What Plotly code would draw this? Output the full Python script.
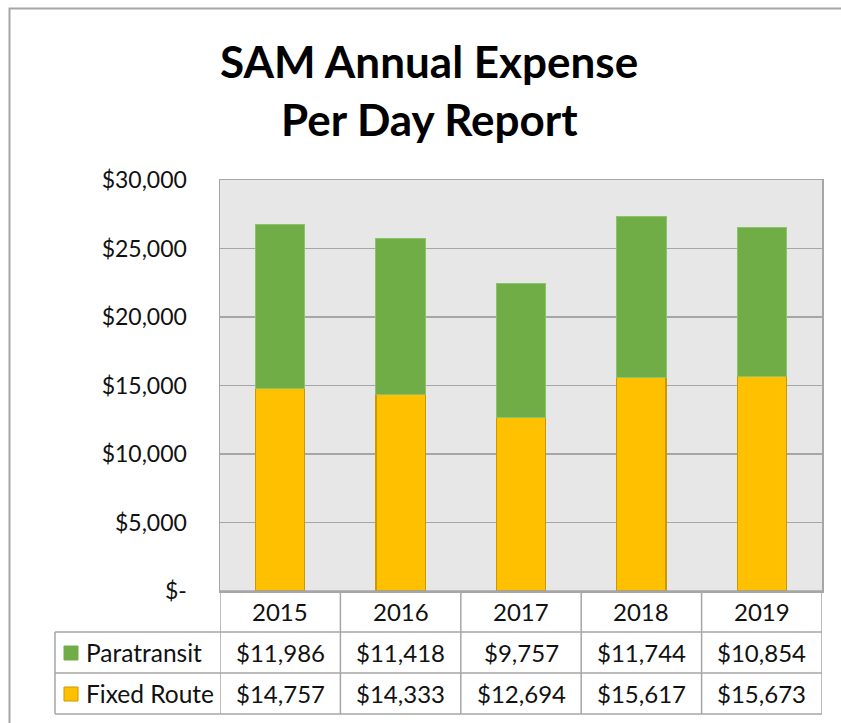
import plotly.graph_objects as go

# ---- data ----
years = ["2015", "2016", "2017", "2018", "2019"]
fixed_route = [14757, 14333, 12694, 15617, 15673]
paratransit = [11986, 11418, 9757, 11744, 10854]
series_names = ["Paratransit", "Fixed Route"]
y_tickvals = [0, 5000, 10000, 15000, 20000, 25000, 30000]
y_ticktext = ["$-", "$5,000", "$10,000", "$15,000", "$20,000", "$25,000", "$30,000"]
title_lines = ["SAM Annual Expense", "Per Day Report"]

# ---- styling / layout geometry ----
W, H = 841, 723
L, R, T, B = 220, 822, 180, 591
FONT = "Lato"
GREEN = "#70AD47"
YELLOW = "#FFC000"
GRID = "#A6A6A6"
TXT = "#111111"
FS = 24


def px_x(x):
    return (x - L) / (R - L)


def px_y(y):
    return (B - y) / (B - T)


def money(v):
    return "${:,}".format(v)


fig = go.Figure()
fig.add_trace(go.Bar(
    x=years, y=fixed_route, name=series_names[1], width=0.41,
    marker=dict(color=YELLOW, line=dict(color="#C99A00", width=1.2)),
))
fig.add_trace(go.Bar(
    x=years, y=paratransit, name=series_names[0], width=0.41,
    marker=dict(color=GREEN, line=dict(color="#8CC26A", width=1)),
))

shapes = []
line = dict(color=GRID, width=1.5)
# outer chart border
shapes.append(dict(type="rect", xref="paper", yref="paper",
                   x0=px_x(9.5), x1=px_x(850), y0=px_y(8.5), y1=px_y(740),
                   line=dict(color="#A6A6A6", width=2), layer="below"))
# table horizontal lines
row_y = [591, 632, 673, 714]
for i, yy in enumerate(row_y):
    x0 = px_x(55) if i >= 1 else 0
    shapes.append(dict(type="line", xref="paper", yref="paper",
                       x0=x0, x1=1, y0=px_y(yy), y1=px_y(yy), line=line))
# table vertical lines at category boundaries
for k in range(len(years) + 1):
    shapes.append(dict(type="line", xref="x", yref="paper",
                       x0=k - 0.5, x1=k - 0.5, y0=px_y(591), y1=px_y(714), line=line))
# left edge of label column
shapes.append(dict(type="line", xref="paper", yref="paper",
                   x0=px_x(55), x1=px_x(55), y0=px_y(632), y1=px_y(714), line=line))
# legend keys
for (yy0, col, lc) in [(646, GREEN, GREEN), (687, YELLOW, "#C99A00")]:
    shapes.append(dict(type="rect", xref="paper", yref="paper",
                       x0=px_x(64), x1=px_x(78), y0=px_y(yy0), y1=px_y(yy0 + 14),
                       fillcolor=col, line=dict(color=lc, width=1)))

annotations = []
# title
for ln, yy in zip(title_lines, [61, 119]):
    annotations.append(dict(text="<b>%s</b>" % ln, xref="paper", yref="paper",
                            x=px_x(429), y=px_y(yy), showarrow=False,
                            xanchor="center", yanchor="middle",
                            font=dict(family=FONT, size=44, color="#000000")))
# header row years
for i, yr in enumerate(years):
    annotations.append(dict(text=yr, xref="x", yref="paper", x=i, y=px_y(611),
                            showarrow=False, xanchor="center", yanchor="middle",
                            font=dict(family=FONT, size=FS, color=TXT)))
# values rows
for vals, yy in [(paratransit, 652), (fixed_route, 693)]:
    for i, v in enumerate(vals):
        annotations.append(dict(text=money(v), xref="x", yref="paper", x=i, y=px_y(yy),
                                showarrow=False, xanchor="center", yanchor="middle",
                                font=dict(family=FONT, size=FS, color=TXT)))
# row labels
for name, yy in zip(series_names, [652, 693]):
    annotations.append(dict(text=name, xref="paper", yref="paper", x=px_x(84), y=px_y(yy),
                            showarrow=False, xanchor="left", yanchor="middle",
                            font=dict(family=FONT, size=24.5, color=TXT)))

fig.update_layout(
    width=W, height=H, autosize=False,
    margin=dict(l=L, r=W - R, t=T, b=H - B, pad=0),
    paper_bgcolor="white", plot_bgcolor="#E7E7E7",
    barmode="stack", showlegend=False,
    shapes=shapes, annotations=annotations,
    font=dict(family=FONT, size=FS, color=TXT),
    xaxis=dict(range=[-0.5, len(years) - 0.5], showticklabels=False, ticks="",
               showgrid=False, showline=True, linecolor=GRID, linewidth=1.5, mirror=True,
               zeroline=False, fixedrange=True),
    yaxis=dict(range=[0, 30000], tickvals=y_tickvals, ticktext=y_ticktext,
               showgrid=True, gridcolor=GRID, gridwidth=1.5,
               showline=True, linecolor=GRID, linewidth=1.5, mirror=True,
               zeroline=False, ticks="", ticklabelstandoff=27,
               tickfont=dict(family=FONT, size=23, color=TXT), fixedrange=True),
)

fig.write_html("out.html", config={"displayModeBar": False, "staticPlot": True},
               post_script="document.body.style.margin='0';document.body.style.overflow='hidden';")
